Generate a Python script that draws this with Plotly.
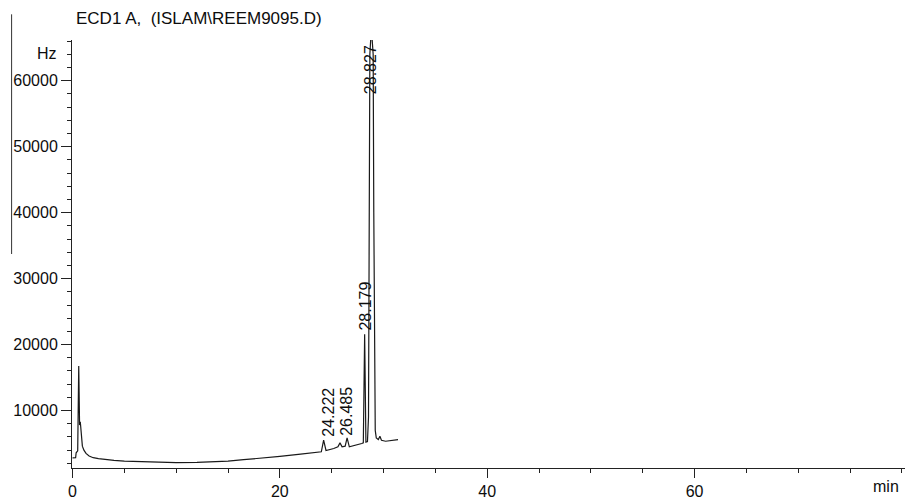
import plotly.graph_objects as go

# Retention time (min) and detector signal (Hz)
time_min = [0.0, 0.30, 0.35, 0.50, 0.60, 0.68, 0.75, 0.85, 0.95, 1.1, 1.3, 1.6, 2.0, 2.5,
            3.0, 4.0, 5.0, 7.0, 8.5, 10.0, 12.0, 14.0, 15.0, 16.5, 18.0, 20.0, 22.0, 23.5,
            24.0, 24.222, 24.45, 25.2, 25.6, 25.8, 26.0, 26.3, 26.485, 26.7, 27.0, 27.5,
            27.9, 28.05, 28.179, 28.3, 28.45, 28.55, 28.62, 28.68, 28.827, 29.0, 29.06,
            29.12, 29.2, 29.3, 29.5, 29.65, 29.8, 30.2, 30.8, 31.4]
signal_hz = [2840, 2850, 3600, 3900, 16760, 7800, 8300, 5500, 4600, 4000, 3500, 3100, 2850, 2700,
             2600, 2450, 2340, 2200, 2120, 2090, 2130, 2250, 2340, 2550, 2750, 3050, 3400, 3650,
             3750, 5500, 3950, 4250, 4500, 5100, 4500, 4600, 5850, 4500, 4600, 4800,
             5000, 5100, 21570, 5200, 5300, 9000, 45000, 64000, 68000, 64000, 40000,
             15000, 7000, 5850, 5600, 6100, 5500, 5350, 5450, 5600]

peak_times = [24.222, 26.485, 28.179, 28.827]
peak_labels = ["24.222", "26.485", "28.179", "28.827"]
label_base = [5750, 5800, 21850, 57650]
label_xshift = [4, 0, 1, -1]

x_ticks = [0, 20, 40, 60]
y_ticks = [10000, 20000, 30000, 40000, 50000, 60000]

title_text = "ECD1 A,  (ISLAM\\REEM9095.D)"
FONT = "Arial, Liberation Sans, sans-serif"
TXT = "#0d0d0d"

fig = go.Figure()
fig.add_trace(go.Scatter(x=time_min, y=signal_hz, mode="lines",
                         line=dict(color="#1a1a1a", width=1.2), showlegend=False,
                         hoverinfo="x+y"))

for t, lab, yb, xs in zip(peak_times, peak_labels, label_base, label_xshift):
    fig.add_annotation(x=t, y=yb, text=lab, textangle=-90, showarrow=False,
                       xanchor="center", yanchor="bottom", xshift=xs,
                       font=dict(family=FONT, size=16, color=TXT))

fig.add_annotation(xref="paper", yref="paper", x=0.0, y=1.0, xshift=2, yshift=22,
                   text=title_text, showarrow=False, xanchor="left", yanchor="middle",
                   font=dict(family=FONT, size=17, color=TXT))
fig.add_annotation(xref="paper", yref="paper", x=0, y=1.0, xshift=-13, yshift=-13,
                   text="Hz", showarrow=False, xanchor="right", yanchor="middle",
                   font=dict(family=FONT, size=16, color=TXT))
fig.add_annotation(xref="paper", yref="paper", x=1.0, y=0, yshift=-18, xshift=-4,
                   text="min", showarrow=False, xanchor="right", yanchor="middle",
                   font=dict(family=FONT, size=16, color=TXT))

# scan artifact: thin vertical line at the far left
fig.add_shape(type="line", xref="paper", yref="paper", x0=-0.0725, x1=-0.0725,
              y0=1.06, y1=0.5, line=dict(color="#333", width=1))

fig.update_xaxes(range=[-0.05, 80.3], tickvals=x_ticks, ticks="outside", ticklen=9,
                 tickwidth=1, tickcolor="#222", showline=True, linecolor="#222",
                 linewidth=1, showgrid=False, zeroline=False,
                 tickfont=dict(family=FONT, size=16, color=TXT),
                 minor=dict(dtick=5, ticks="outside", ticklen=4, tickcolor="#222"))
fig.update_yaxes(range=[1290, 66180], tickvals=y_ticks, tickformat="d", ticks="outside",
                 ticklen=10, tickwidth=1, tickcolor="#222", showline=True, linecolor="#222",
                 linewidth=1, showgrid=False, zeroline=False,
                 tickfont=dict(family=FONT, size=16, color=TXT),
                 minor=dict(dtick=2000, ticks="outside", ticklen=4, tickcolor="#222"))

fig.update_layout(width=905, height=500, margin=dict(l=72, r=0, t=40, b=28),
                  plot_bgcolor="white", paper_bgcolor="white")

fig.write_html("out.html")
